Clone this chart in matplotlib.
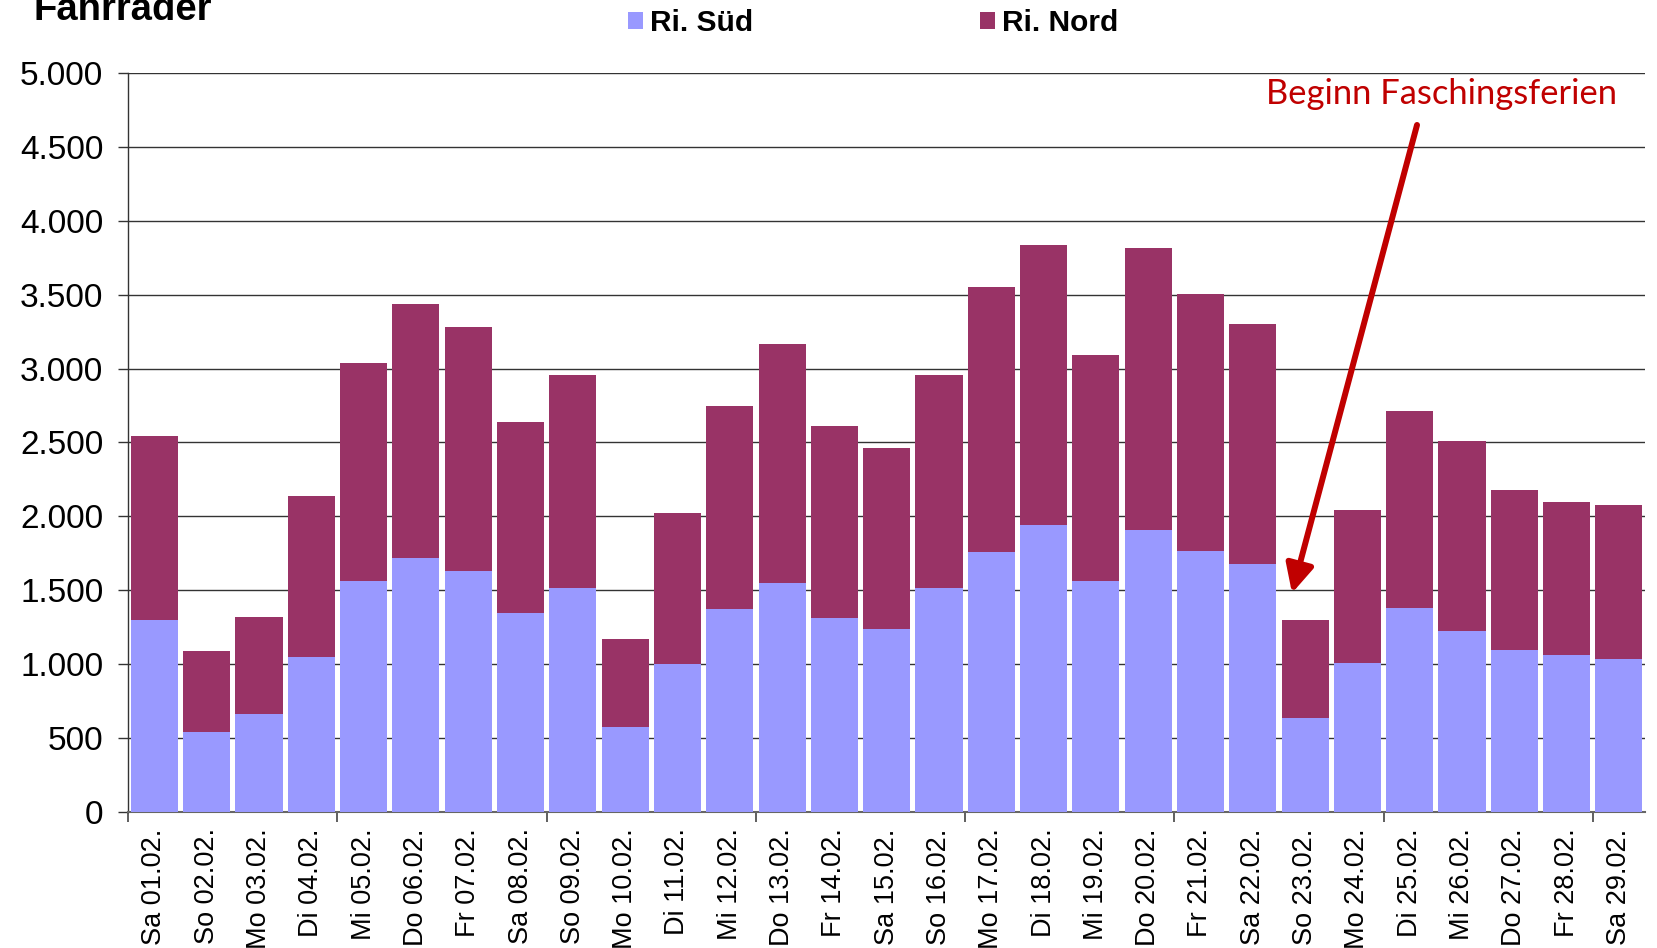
import matplotlib
matplotlib.use("Agg")
import matplotlib.pyplot as plt
from matplotlib.ticker import FuncFormatter, FixedLocator
import numpy as np

plt.rcParams['font.family'] = ['Liberation Sans', 'DejaVu Sans']

days = ["Sa 01.02.", "So 02.02.", "Mo 03.02.", "Di 04.02.", "Mi 05.02.", "Do 06.02.",
        "Fr 07.02.", "Sa 08.02.", "So 09.02.", "Mo 10.02.", "Di 11.02.", "Mi 12.02.",
        "Do 13.02.", "Fr 14.02.", "Sa 15.02.", "So 16.02.", "Mo 17.02.", "Di 18.02.",
        "Mi 19.02.", "Do 20.02.", "Fr 21.02.", "Sa 22.02.", "So 23.02.", "Mo 24.02.",
        "Di 25.02.", "Mi 26.02.", "Do 27.02.", "Fr 28.02.", "Sa 29.02."]
sued = [1300, 540, 660, 1050, 1565, 1715, 1630, 1345, 1515, 575, 1000, 1375, 1550, 1310,
        1240, 1515, 1760, 1940, 1560, 1905, 1765, 1675, 635, 1010, 1380, 1225, 1095, 1060, 1035]
total = [2545, 1090, 1320, 2140, 3040, 3440, 3285, 2640, 2960, 1170, 2025, 2745, 3170, 2610,
         2460, 2955, 3550, 3840, 3090, 3820, 3505, 3300, 1300, 2045, 2715, 2510, 2175, 2095, 2075]
nord = [t - s for t, s in zip(total, sued)]

C_SUED = "#9999FF"
C_NORD = "#993366"

fig = plt.figure(figsize=(16.57, 9.48), dpi=100)
ax = fig.add_axes([0.0774, 0.1438, 0.9154, 0.7789])

x = np.arange(len(days))
ax.bar(x, sued, width=0.9, color=C_SUED, label="Ri. Süd", zorder=3)
ax.bar(x, nord, width=0.9, bottom=sued, color=C_NORD, label="Ri. Nord", zorder=3)

ax.set_xlim(-0.5, len(days) - 0.5)
ax.set_ylim(0, 5000)
ax.set_yticks(np.arange(0, 5001, 500))
ax.yaxis.set_major_formatter(FuncFormatter(lambda v, p: f"{int(v):,}".replace(",", ".")))
ax.grid(axis="y", color="#333333", linewidth=1.0, zorder=0)

# labels at bar centres, tick marks every 4 days on the boundaries
ax.set_xticks(x)
ax.set_xticklabels(days, rotation=90, fontsize=19.5)
ax.tick_params(axis="x", which="major", length=0, pad=12)
ax.xaxis.set_minor_locator(FixedLocator(np.arange(-0.5, len(days), 4)))
ax.tick_params(axis="x", which="minor", length=7, width=1.2, color="#444444")
ax.tick_params(axis="y", labelsize=24, length=7, width=1.0, color="#333333", pad=11)

for s in ["top", "right"]:
    ax.spines[s].set_visible(False)
ax.spines["left"].set_color("#333333")
ax.spines["bottom"].set_color("#666666")
ax.spines["left"].set_linewidth(1.0)
ax.spines["bottom"].set_linewidth(1.5)

# title is partly cut at the top edge, as in the original
fig.text(0.02, 1 - 20 / 948, "Fahrräder", fontsize=27.5, fontweight="bold", va="baseline")

ax.legend(loc="lower left", bbox_to_anchor=(0.379, 0.961), bbox_transform=fig.transFigure,
          ncol=2, frameon=False, handlelength=0.5, handleheight=0.5, handletextpad=0.23,
          columnspacing=7.6, borderpad=0, borderaxespad=0,
          prop={"size": 21.5, "weight": "bold"})

ax.annotate("", xy=(21.75, 1480), xytext=(24.14, 4650),
            arrowprops=dict(arrowstyle="-|>,head_length=0.85,head_width=0.42",
                            mutation_scale=20, color="#C00000", lw=4.3,
                            shrinkA=0, shrinkB=0), zorder=5)
ax.text(24.6, 4860, "Beginn Faschingsferien", color="#C00000", fontsize=24.8,
        family=["Lato", "DejaVu Sans"], ha="center", va="center", zorder=5)

fig.savefig("out.png", dpi=100)
